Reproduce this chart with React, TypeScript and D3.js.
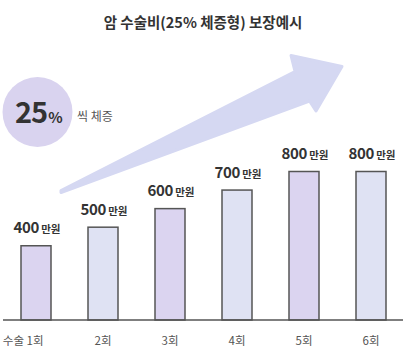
import React from "react";
import * as d3 from "d3";

const categories = ["수술 1회", "2회", "3회", "4회", "5회", "6회"];
const values = [400, 500, 600, 700, 800, 800];
const unit = "만원";
const title = "암 수술비(25% 체증형) 보장예시";
const badgeValue = "25";
const badgeUnit = "%";
const badgeText = "씩 체증";

const W = 409;
const H = 357;
const FONT = "'Noto Sans CJK KR', 'Noto Sans', sans-serif";
const fills = ["#dbd4f0", "#dfe2f3"];

export default function App() {
  const x = d3.scalePoint<string>().domain(categories).range([2.5, 404.5]).padding(0.5);
  const y = d3.scaleLinear().domain([0, 800]).range([320, 171.5]);
  const barW = 30;

  const arrow = d3.line()([
    [61, 190.5],
    [295, 71.5],
    [291, 55.5],
    [342, 66.5],
    [316, 111],
    [309.5, 101],
    [61, 192.5],
  ]) + "Z";

  return (
    <svg width={W} height={H} style={{ position: "absolute", left: 0, top: 0, background: "#fff" }} fontFamily={FONT}>
      <text x={203} y={28} textAnchor="middle" fontSize={14.5} fontWeight={700} fill="#333">
        {title}
      </text>
      <path d={arrow} fill="#d5d8f2" stroke="#d5d8f2" strokeWidth={3} strokeLinejoin="round" />
      <circle cx={37.5} cy={112} r={35} fill="#d9d3ef" />
      <text x={15} y={123} fontWeight={700} fill="#333" fontSize={29} letterSpacing={-1}>
        {badgeValue}
        <tspan fontSize={15} dx={1}>{badgeUnit}</tspan>
      </text>
      <text x={77} y={121} fontSize={12} fill="#555">{badgeText}</text>

      {values.map((v, i) => {
        const cx = x(categories[i])!;
        return (
          <g key={i}>
            <rect
              x={cx - barW / 2}
              y={y(v)}
              width={barW}
              height={y(0) - y(v)}
              fill={fills[i % 2]}
              stroke="#555"
              strokeWidth={1.5}
            />
            <text x={cx + 1} y={y(v) - 12.5} textAnchor="middle" fill="#333" fontWeight={700}>
              <tspan fontSize={15} letterSpacing={-0.3}>{v}</tspan>
              <tspan fontSize={10.5} dx={2}>{unit}</tspan>
            </text>
            <text
              x={i === 0 ? cx + 7.5 : cx}
              y={345}
              textAnchor={i === 0 ? "end" : "middle"}
              fontSize={11.5}
              fill="#555"
            >
              {categories[i]}
            </text>
          </g>
        );
      })}
      <line x1={3} x2={403} y1={y(0)} y2={y(0)} stroke="#555" strokeWidth={1.5} />
    </svg>
  );
}
